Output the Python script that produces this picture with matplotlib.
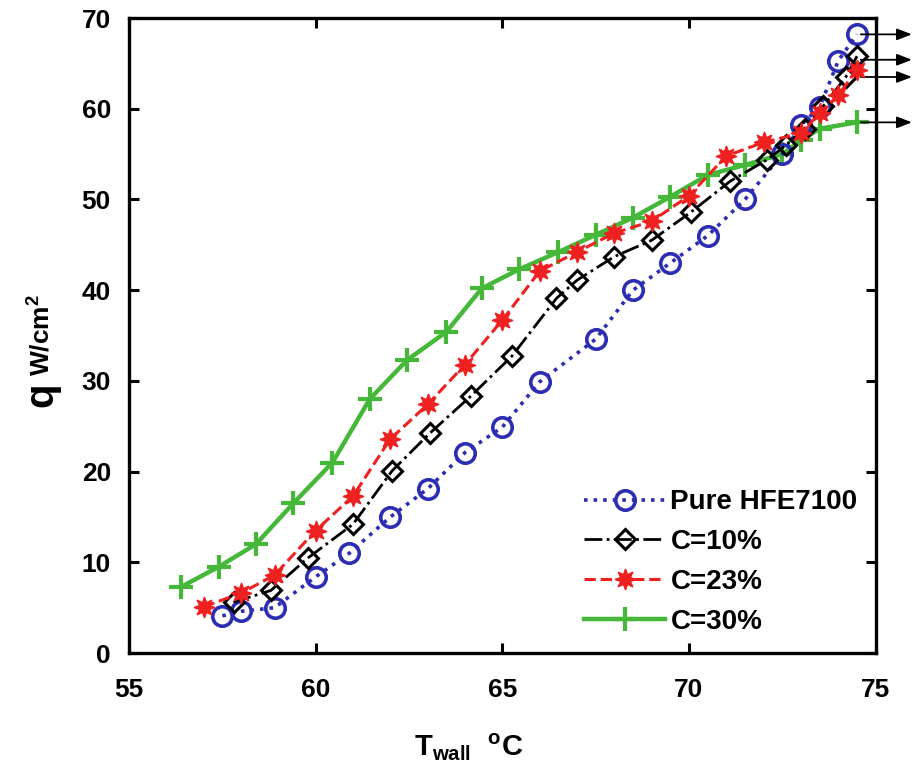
import matplotlib
matplotlib.use("Agg")
import matplotlib.pyplot as plt

plt.rcParams['font.family'] = ['Liberation Sans', 'DejaVu Sans']
plt.rcParams['font.weight'] = 'bold'
plt.rcParams['mathtext.fontset'] = 'custom'
plt.rcParams['mathtext.rm'] = 'Liberation Sans:bold'
plt.rcParams['mathtext.bf'] = 'Liberation Sans:bold'
plt.rcParams['mathtext.it'] = 'Liberation Sans:bold:italic'

# ---- data ----
pure_x = [57.5, 58, 58.9, 60, 60.9, 62, 63, 64, 65, 66, 67.5, 68.5, 69.5, 70.5, 71.5, 72.5, 73, 73.5, 74, 74.5]
pure_y = [4.1, 4.6, 5.0, 8.4, 11.0, 15.0, 18.1, 22.1, 24.9, 29.9, 34.6, 40.0, 43.0, 46.0, 50.0, 55.0, 58.2, 60.2, 65.3, 68.2]

c10_x = [57.8, 58.8, 59.8, 61, 62.05, 63.05, 64.15, 65.25, 66.45, 67, 68, 69, 70.05, 71.1, 72.1, 72.6, 73.1, 73.6, 74.2, 74.5]
c10_y = [5.6, 6.9, 10.5, 14.2, 20.1, 24.2, 28.3, 32.7, 39.1, 41.1, 43.7, 45.5, 48.6, 52.0, 54.4, 56.0, 57.8, 60.3, 63.5, 65.8]

c23_x = [57, 58, 58.9, 60, 61, 62, 63, 64, 65, 66, 67, 68, 69, 70, 71, 72, 73, 73.5, 74, 74.5]
c23_y = [5.1, 6.6, 8.6, 13.5, 17.3, 23.6, 27.4, 31.8, 36.7, 42.1, 44.2, 46.3, 47.6, 50.4, 54.8, 56.3, 57.3, 59.5, 61.5, 64.3]

c30_x = [56.4, 57.4, 58.4, 59.4, 60.45, 61.45, 62.45, 63.5, 64.45, 65.45, 66.5, 67.5, 68.5, 69.5, 70.5, 71.5, 72.5, 73, 73.5, 74.5]
c30_y = [7.3, 9.5, 12.0, 16.5, 21.0, 28.0, 32.3, 35.4, 40.2, 42.3, 44.2, 46.1, 48.0, 50.3, 52.7, 53.8, 55.0, 56.5, 57.8, 58.5]

labels = ["Pure HFE7100", "C=10%", "C=23%", "C=30%"]
x_ticks = [55, 60, 65, 70, 75]
y_ticks = [0, 10, 20, 30, 40, 50, 60, 70]
arrow_y = [68.2, 65.4, 63.5, 58.5]

fig = plt.figure(figsize=(9.15, 7.74), dpi=100)
ax = fig.add_axes([0.141, 0.1563, 0.816, 0.8204])

blue = '#2D2DB4'
red = '#EE2020'
green = '#45B83A'

ax.plot(pure_x, pure_y, linestyle=':', color=blue, lw=2.6, marker='o', ms=14,
        mfc='none', mec=blue, mew=2.6, label=labels[0], zorder=3)
ax.plot(c10_x, c10_y, linestyle='-.', color='black', lw=2.0, marker='D', ms=10,
        mfc='none', mec='black', mew=2.2, label=labels[1], zorder=4)
ax.plot(c23_x, c23_y, linestyle='--', color=red, lw=2.2, marker=(8, 1, 0), ms=15,
        mfc=red, mec=red, mew=1.0, label=labels[2], zorder=5)
ax.plot(c30_x, c30_y, linestyle='-', color=green, lw=3.2, marker='+', ms=17,
        mec=green, mew=3.0, label=labels[3], zorder=2)

for yv in arrow_y:
    ax.annotate('', xy=(75.97, yv), xytext=(74.6, yv), xycoords='data',
                textcoords='data', annotation_clip=False,
                arrowprops=dict(arrowstyle='-|>,head_length=0.9,head_width=0.35',
                                color='black', lw=1.3, shrinkA=0, shrinkB=0))

ax.set_xlim(55, 75)
ax.set_ylim(0, 70)
ax.set_xticks(x_ticks)
ax.set_yticks(y_ticks)
ax.tick_params(direction='in', length=7, width=2.2, top=True, right=True,
               labelsize=19)
ax.tick_params(axis='x', pad=18)
ax.tick_params(axis='y', pad=13)
for lab in ax.get_xticklabels() + ax.get_yticklabels():
    lab.set_fontweight('bold')
for s in ax.spines.values():
    s.set_linewidth(2.4)

fig.text(0.512, 0.035, r'T$_{\mathrm{wall}}$  $^{\mathrm{o}}$C', ha='center', va='center',
         fontsize=21, fontweight='bold')
fig.text(0.045, 0.49, 'q', rotation=90, ha='center', va='center',
         fontsize=29, fontweight='bold')
fig.text(0.045, 0.567, r'W/cm$^{2}$', rotation=90, ha='center', va='center',
         fontsize=19, fontweight='bold')

leg = ax.legend(loc='lower right', frameon=False,
                fontsize=20, handlelength=2.9, handletextpad=0.2,
                labelspacing=0.5, borderpad=0.15, borderaxespad=0.5)
for t in leg.get_texts():
    t.set_fontweight('bold')

fig.savefig('out.png', dpi=100)
